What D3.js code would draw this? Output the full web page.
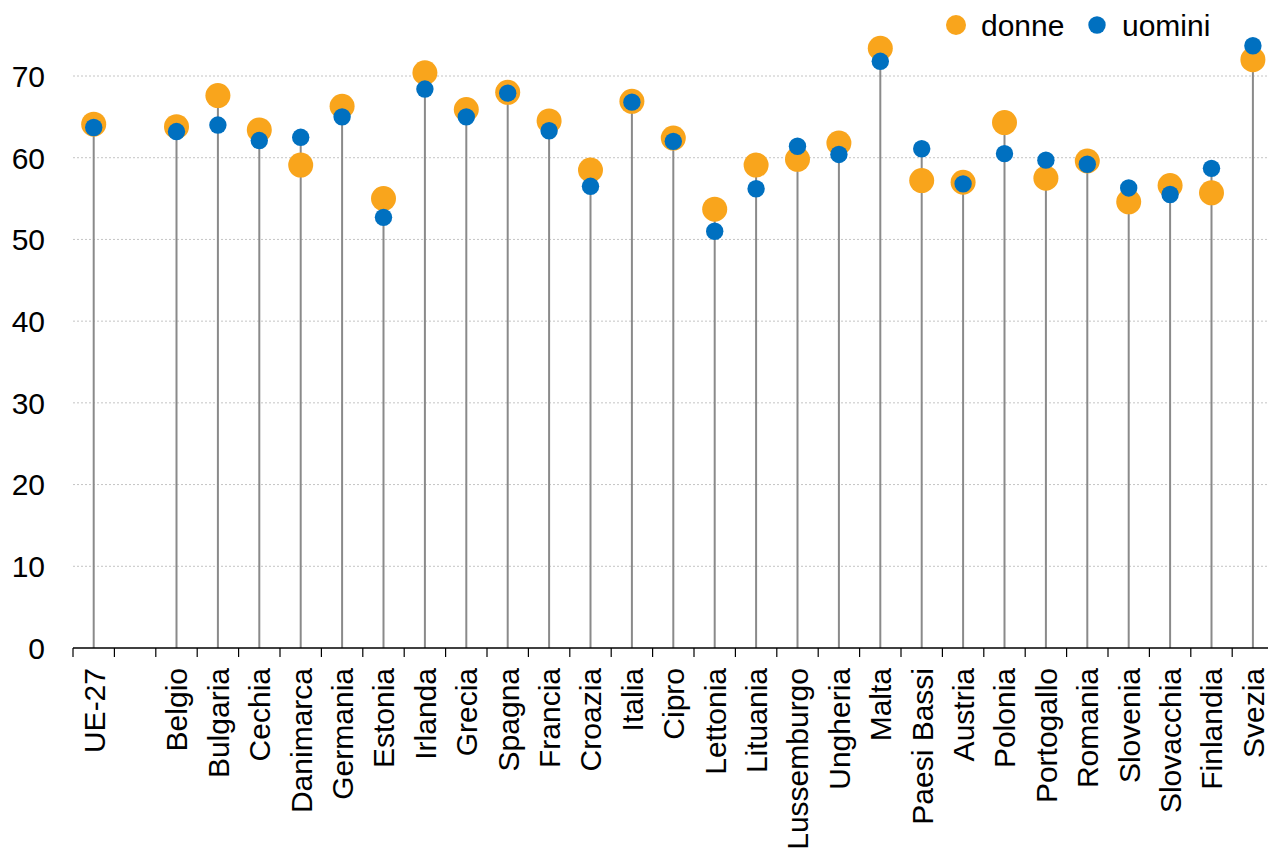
<!DOCTYPE html>
<html>
<head>
<meta charset="utf-8">
<script src="https://cdn.jsdelivr.net/npm/d3@7"></script>
<style>
  body { margin: 0; background: #fff; }
  svg { display: block; font-family: "Liberation Sans", Arial, sans-serif; }
</style>
</head>
<body>
<svg id="chart" width="1268" height="859"></svg>
<script>
// dati (la voce vuota è lo spazio dopo UE-27)
const paesi = ["UE-27", "", "Belgio", "Bulgaria", "Cechia", "Danimarca", "Germania", "Estonia",
  "Irlanda", "Grecia", "Spagna", "Francia", "Croazia", "Italia", "Cipro", "Lettonia", "Lituania",
  "Lussemburgo", "Ungheria", "Malta", "Paesi Bassi", "Austria", "Polonia", "Portogallo",
  "Romania", "Slovenia", "Slovacchia", "Finlandia", "Svezia"];
const donne = [64.1, null, 63.8, 67.6, 63.4, 59.1, 66.3, 55.0, 70.4, 65.9, 68.0, 64.5, 58.5, 66.9,
  62.4, 53.7, 59.1, 59.8, 61.8, 73.4, 57.2, 57.0, 64.3, 57.5, 59.6, 54.6, 56.6, 55.7, 72.0];
const uomini = [63.7, null, 63.2, 64.0, 62.1, 62.5, 65.0, 52.7, 68.4, 65.0, 67.9, 63.3, 56.5, 66.8,
  62.0, 51.0, 56.2, 61.4, 60.4, 71.8, 61.1, 56.8, 60.5, 59.7, 59.2, 56.3, 55.5, 58.7, 73.7];
const yTicks = [0, 10, 20, 30, 40, 50, 60, 70];
const serie = ["donne", "uomini"];
const colori = { donne: "#F9A51C", uomini: "#0070C0" };

const svg = d3.select("#chart");

const x = d3.scaleBand()
  .domain(paesi.map((d, i) => i))
  .range([73, 73 + 29 * 41.4]);

const y = d3.scaleLinear()
  .domain([0, 70])
  .range([648, 76]);

// griglia
svg.append("g")
  .selectAll("line")
  .data(yTicks.filter(d => d > 0))
  .enter()
  .append("line")
  .attr("x1", 73)
  .attr("x2", 1268)
  .attr("y1", d => y(d))
  .attr("y2", d => y(d))
  .attr("stroke", "#c4c4c4")
  .attr("stroke-width", 1)
  .attr("stroke-dasharray", "2,2");

// etichette asse y
svg.append("g")
  .selectAll("text")
  .data(yTicks)
  .enter()
  .append("text")
  .attr("x", 45)
  .attr("y", d => y(d))
  .attr("dy", "0.36em")
  .attr("text-anchor", "end")
  .attr("font-size", 30)
  .attr("fill", "#000")
  .text(d => d);

const righe = paesi.map((p, i) => ({ i: i, p: p, donne: donne[i], uomini: uomini[i] }))
  .filter(d => d.donne !== null);

// steli
svg.append("g")
  .selectAll("line")
  .data(righe)
  .enter()
  .append("line")
  .attr("x1", d => x(d.i) + x.bandwidth() / 2)
  .attr("x2", d => x(d.i) + x.bandwidth() / 2)
  .attr("y1", y(0))
  .attr("y2", d => y(Math.max(d.donne, d.uomini)))
  .attr("stroke", "#8a8a8a")
  .attr("stroke-width", 2);

// asse x
const asseX = svg.append("g");
asseX.append("line")
  .attr("x1", 73)
  .attr("x2", 1268)
  .attr("y1", y(0))
  .attr("y2", y(0))
  .attr("stroke", "#000")
  .attr("stroke-width", 1.5);

asseX.selectAll(".tacca")
  .data(paesi.map((d, i) => i))
  .enter()
  .append("line")
  .attr("class", "tacca")
  .attr("x1", d => x(d))
  .attr("x2", d => x(d))
  .attr("y1", y(0))
  .attr("y2", y(0) + 9)
  .attr("stroke", "#000")
  .attr("stroke-width", 1.2);

asseX.selectAll("text")
  .data(paesi.map((p, i) => ({ i: i, p: p })))
  .enter()
  .append("text")
  .attr("transform", d => "translate(" + (x(d.i) + x.bandwidth() / 2) + "," + 668 + ") rotate(-90)")
  .attr("dy", "0.36em")
  .attr("text-anchor", "end")
  .attr("font-size", 30)
  .attr("fill", "#000")
  .text(d => d.p);

// punti
const raggi = { donne: 12.5, uomini: 8.7 };
serie.forEach(function (s) {
  svg.append("g")
    .selectAll("circle")
    .data(righe)
    .enter()
    .append("circle")
    .attr("cx", d => x(d.i) + x.bandwidth() / 2)
    .attr("cy", d => y(d[s]))
    .attr("r", raggi[s])
    .attr("fill", colori[s]);
});

// legenda
const legenda = svg.append("g");
const posLeg = { donne: 956, uomini: 1097 };
serie.forEach(function (s) {
  legenda.append("circle")
    .attr("cx", posLeg[s])
    .attr("cy", 25)
    .attr("r", s === "donne" ? 10 : 8.7)
    .attr("fill", colori[s]);
  legenda.append("text")
    .attr("x", posLeg[s] + 25)
    .attr("y", 25)
    .attr("dy", "0.36em")
    .attr("font-size", 30)
    .attr("fill", "#000")
    .text(s);
});
</script>
</body>
</html>
